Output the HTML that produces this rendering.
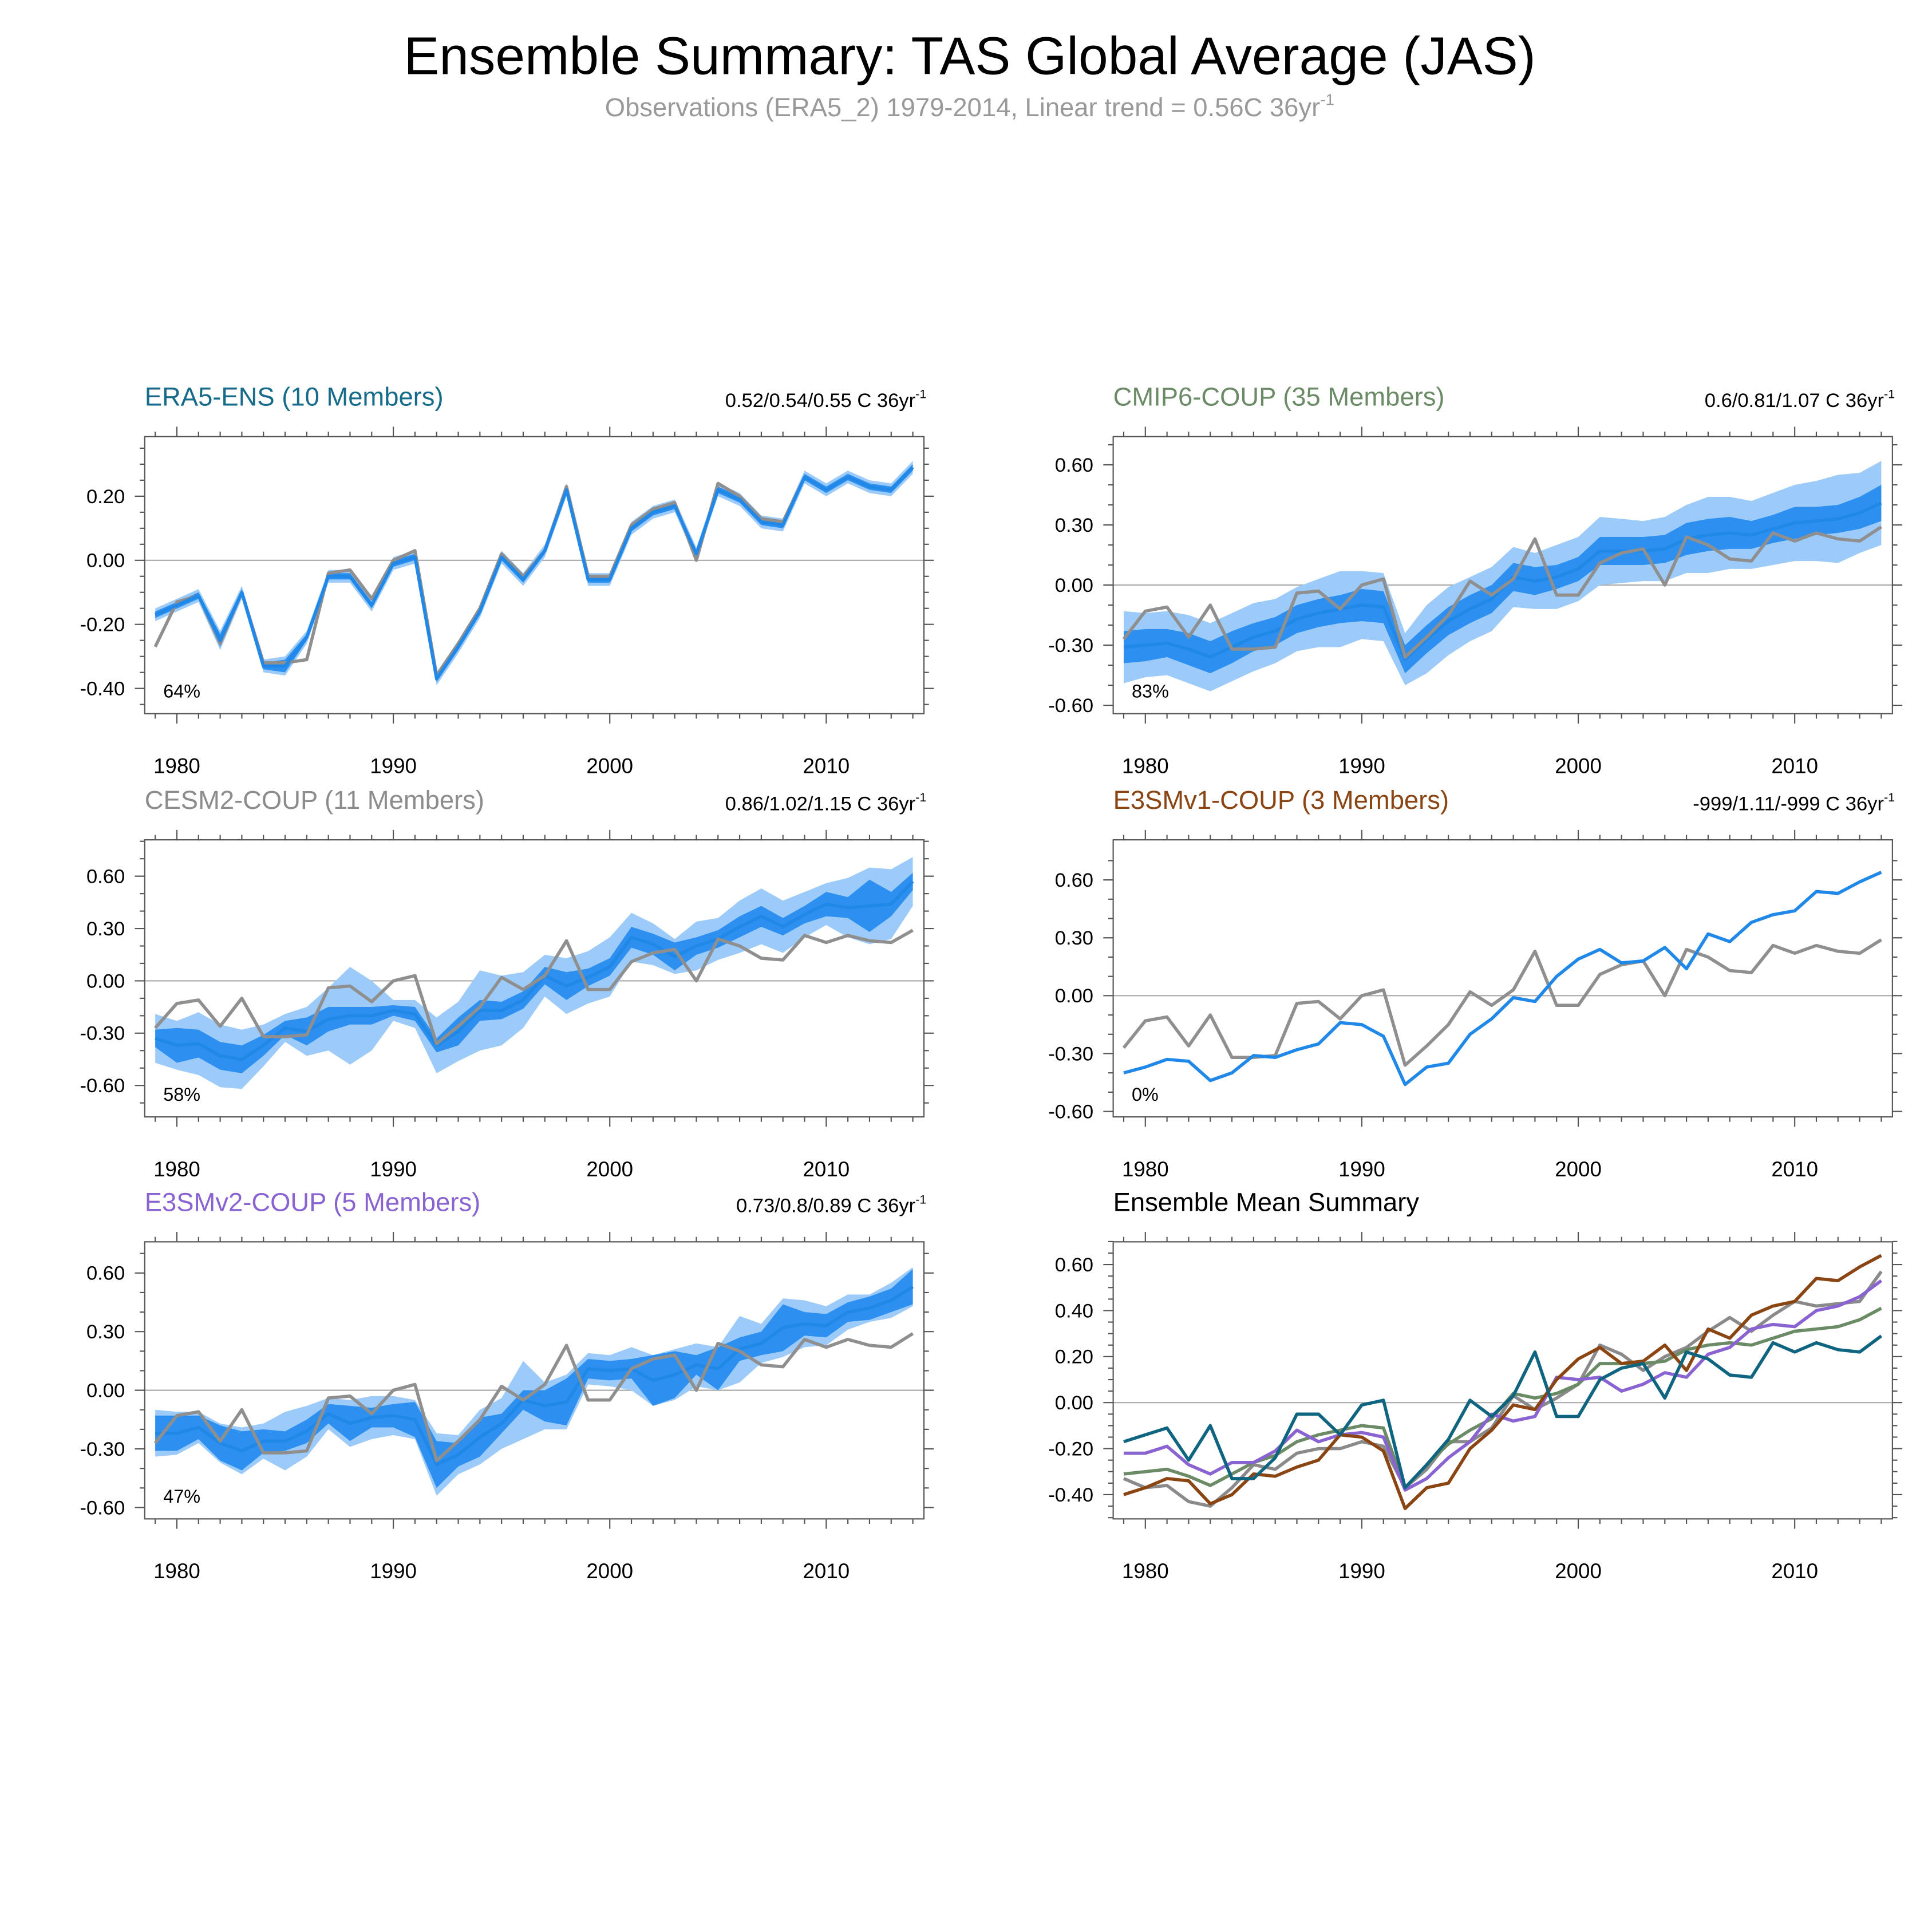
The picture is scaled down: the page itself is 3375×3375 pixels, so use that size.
<!DOCTYPE html>
<html><head><meta charset="utf-8">
<style>
html,body{margin:0;padding:0;background:#fff;}
svg{display:block;font-family:"Liberation Sans",Arial,sans-serif;}
</style></head>
<body>
<svg id="chart" width="3375" height="3375" viewBox="0 0 1562 1562" xmlns="http://www.w3.org/2000/svg">
<rect width="1562" height="1562" fill="#fff"/>
<text x="784" y="60" text-anchor="middle" font-size="43" fill="#000">Ensemble Summary: TAS Global Average (JAS)</text>
<text x="784" y="94" text-anchor="middle" font-size="21" fill="#999">Observations (ERA5_2) 1979-2014, Linear trend = 0.56C 36yr<tspan dy="-9" font-size="13">-1</tspan></text>
</svg>
<script>
const years = [];
for (let y = 1979; y <= 2014; y++) years.push(y);
const xTickLabels = [1980, 1990, 2000, 2010];

const obs = [-0.27,-0.13,-0.11,-0.26,-0.10,-0.32,-0.32,-0.31,-0.04,-0.03,-0.12,0.00,0.03,-0.36,-0.26,-0.15,0.02,-0.05,0.03,0.23,-0.05,-0.05,0.11,0.16,0.18,0.00,0.24,0.20,0.13,0.12,0.26,0.22,0.26,0.23,0.22,0.29];
const era5Mean = [-0.17,-0.14,-0.11,-0.25,-0.10,-0.33,-0.33,-0.24,-0.05,-0.05,-0.14,-0.01,0.01,-0.37,-0.27,-0.16,0.01,-0.06,0.03,0.22,-0.06,-0.06,0.10,0.15,0.17,0.02,0.22,0.19,0.12,0.11,0.26,0.22,0.26,0.23,0.22,0.29];
const cmip6Mean = [-0.31,-0.30,-0.29,-0.32,-0.36,-0.31,-0.26,-0.23,-0.17,-0.14,-0.12,-0.10,-0.11,-0.37,-0.27,-0.18,-0.12,-0.07,0.04,0.02,0.04,0.08,0.17,0.17,0.17,0.18,0.23,0.25,0.26,0.25,0.28,0.31,0.32,0.33,0.36,0.41];
const cesm2Mean = [-0.33,-0.37,-0.36,-0.43,-0.45,-0.37,-0.27,-0.29,-0.22,-0.20,-0.20,-0.17,-0.19,-0.37,-0.29,-0.17,-0.17,-0.11,0.03,-0.03,0.02,0.08,0.25,0.21,0.14,0.20,0.24,0.31,0.37,0.31,0.38,0.44,0.42,0.43,0.44,0.57];
const e3v1Mean = [-0.40,-0.37,-0.33,-0.34,-0.44,-0.40,-0.31,-0.32,-0.28,-0.25,-0.14,-0.15,-0.21,-0.46,-0.37,-0.35,-0.20,-0.12,-0.01,-0.03,0.10,0.19,0.24,0.17,0.18,0.25,0.14,0.32,0.28,0.38,0.42,0.44,0.54,0.53,0.59,0.64];
const e3v2Mean = [-0.22,-0.22,-0.19,-0.27,-0.31,-0.26,-0.26,-0.21,-0.12,-0.17,-0.14,-0.13,-0.15,-0.38,-0.33,-0.24,-0.17,-0.05,-0.08,-0.06,0.11,0.10,0.11,0.05,0.08,0.13,0.11,0.21,0.24,0.32,0.34,0.33,0.40,0.42,0.46,0.53];

const era5Inner = [0.01,0.01,0.01,0.02,0.01,0.01,0.02,0.01,0.01,0.01,0.01,0.01,0.01,0.01,0.01,0.01,0.01,0.01,0.01,0.01,0.01,0.01,0.01,0.01,0.01,0.01,0.01,0.01,0.01,0.01,0.01,0.01,0.01,0.01,0.01,0.01];
const era5Outer = [0.02,0.02,0.02,0.03,0.02,0.02,0.03,0.02,0.02,0.02,0.02,0.02,0.02,0.02,0.02,0.02,0.02,0.02,0.02,0.02,0.02,0.02,0.02,0.02,0.02,0.02,0.02,0.02,0.02,0.02,0.02,0.02,0.02,0.02,0.02,0.02];
const cmip6Inner = [0.08,0.08,0.07,0.08,0.08,0.08,0.07,0.07,0.07,0.07,0.07,0.08,0.08,0.07,0.07,0.07,0.07,0.07,0.07,0.07,0.06,0.06,0.07,0.07,0.07,0.07,0.08,0.08,0.08,0.07,0.07,0.08,0.07,0.07,0.08,0.09];
const cmip6Outer = [0.18,0.16,0.16,0.17,0.17,0.17,0.17,0.16,0.16,0.17,0.19,0.17,0.17,0.13,0.17,0.17,0.16,0.16,0.15,0.14,0.16,0.16,0.17,0.16,0.15,0.16,0.17,0.19,0.18,0.17,0.18,0.19,0.20,0.22,0.20,0.21];
const cesm2Inner = [0.05,0.10,0.08,0.08,0.08,0.06,0.04,0.08,0.07,0.05,0.05,0.03,0.04,0.04,0.08,0.06,0.05,0.05,0.05,0.08,0.05,0.05,0.06,0.06,0.08,0.05,0.05,0.06,0.06,0.05,0.05,0.07,0.06,0.15,0.07,0.05];
const cesm2Outer = [0.14,0.14,0.18,0.18,0.17,0.12,0.08,0.14,0.18,0.28,0.20,0.06,0.08,0.16,0.17,0.23,0.20,0.16,0.12,0.16,0.15,0.17,0.14,0.12,0.10,0.14,0.12,0.15,0.16,0.15,0.13,0.12,0.17,0.22,0.20,0.14];
const e3v2Inner = [0.09,0.09,0.06,0.09,0.10,0.06,0.05,0.06,0.05,0.09,0.05,0.06,0.09,0.12,0.06,0.10,0.05,0.05,0.08,0.12,0.05,0.05,0.05,0.13,0.12,0.05,0.11,0.06,0.06,0.12,0.06,0.06,0.05,0.06,0.06,0.09];
const e3v2Outer = [0.12,0.11,0.08,0.10,0.12,0.09,0.15,0.13,0.08,0.12,0.11,0.10,0.10,0.16,0.10,0.14,0.13,0.20,0.12,0.14,0.08,0.08,0.11,0.13,0.13,0.11,0.11,0.17,0.10,0.15,0.12,0.10,0.09,0.07,0.09,0.10];

const NS = "http://www.w3.org/2000/svg";
const svg = document.getElementById('chart');
function mk(tag, attrs, parent) {
  const e = document.createElementNS(NS, tag);
  for (const k in attrs) e.setAttribute(k, attrs[k]);
  (parent || svg).appendChild(e);
  return e;
}

function panel(cfg) {
  const g = mk('g', {});
  
  
  const {x0, x1, y0, y1, yRef, yRefVal, yPerUnit} = cfg;
  const xs = yr => x0 + 8.5 + (yr - 1979) * 17.5;
  const ys = v => yRef - (v - yRefVal) * yPerUnit;
  const lineD = arr => arr.map((v, i) => (i ? 'L' : 'M') + xs(years[i]).toFixed(1) + ',' + ys(v).toFixed(1)).join('');
  const bandD = (mean, w) => {
    let d = mean.map((v, i) => (i ? 'L' : 'M') + xs(years[i]).toFixed(1) + ',' + ys(v + w[i]).toFixed(1)).join('');
    for (let i = mean.length - 1; i >= 0; i--) d += 'L' + xs(years[i]).toFixed(1) + ',' + ys(mean[i] - w[i]).toFixed(1);
    return d + 'Z';
  };
  const z = mk('line', {x1: x0, x2: x1, y1: ys(0), y2: ys(0), stroke: '#aaa', 'stroke-width': 1}, g);
  
  
  if (cfg.outer) {
    const b = mk('path', {d: bandD(cfg.mean, cfg.outer), fill: '#9ccbfa'}, g);
    
    
  }
  if (cfg.inner) {
    const b = mk('path', {d: bandD(cfg.mean, cfg.inner), fill: '#2d90f0'}, g);
    
    
  }
  (cfg.lines || []).forEach(l => {
    const p = mk('path', {d: lineD(l.data), fill: 'none', stroke: l.color, 'stroke-width': 2.6, 'stroke-linejoin': 'round'}, g);
    
    
  });
  const fr = mk('rect', {x: x0, y: y0, width: x1 - x0, height: y1 - y0, fill: 'none', stroke: '#555', 'stroke-width': 1}, g);
  
  
  years.forEach(yr => {
    const major = yr % 10 === 0;
    const L = major ? 8 : 4;
    mk('line', {x1: xs(yr), x2: xs(yr), y1: y1, y2: y1 + L, stroke: '#555', 'stroke-width': 1}, g);
    mk('line', {x1: xs(yr), x2: xs(yr), y1: y0, y2: y0 - L, stroke: '#555', 'stroke-width': 1}, g);
  });
  xTickLabels.forEach(yr => {
    const t = mk('text', {x: xs(yr), y: y1 + 48, 'text-anchor': 'middle', 'font-size': 17}, g);
    t.textContent = yr;
    
    
  });
  for (let k = Math.round(cfg.yMin / cfg.minor); k * cfg.minor <= cfg.yMax + 1e-9; k++) {
    const v = k * cfg.minor;
    const yy = ys(v);
    if (yy < y0 - 0.5 || yy > y1 + 0.5) continue;
    const major = cfg.majorVals.some(m => Math.abs(m - v) < 1e-6);
    const L = major ? 8 : 4;
    mk('line', {x1: x0, x2: x0 - L, y1: yy, y2: yy, stroke: '#555', 'stroke-width': 1}, g);
    mk('line', {x1: x1, x2: x1 + L, y1: yy, y2: yy, stroke: '#555', 'stroke-width': 1}, g);
  }
  cfg.majorVals.forEach(v => {
    const t = mk('text', {x: x0 - 16, y: ys(v) + 5.5, 'text-anchor': 'end', 'font-size': 16}, g);
    t.textContent = v.toFixed(2);
    
    
  });
  const tt = mk('text', {x: x0, y: y0 - 25, 'font-size': 21, fill: cfg.titleColor}, g);
  tt.textContent = cfg.title;
  
  
  if (cfg.trend) {
    const tr = mk('text', {x: x1 + 2, y: y0 - 24, 'text-anchor': 'end', 'font-size': 16}, g);
    tr.textContent = cfg.trend + ' C 36yr';
    const sup = mk('tspan', {dy: -7, 'font-size': 10}, tr);
    sup.textContent = '-1';
    
    
  }
  if (cfg.pct) {
    const p = mk('text', {x: x0 + 15, y: y1 - 13, 'font-size': 15}, g);
    p.textContent = cfg.pct;
    
    
  }
}

const majors6 = [0.6, 0.3, 0, -0.3, -0.6];
const blue = '#1f88e8', gray = '#8f8f8f';
panel({name: 'panel-era5-ens', x0: 117, x1: 747, y0: 353, y1: 577, yRef: 453, yRefVal: 0, yPerUnit: 259,
  yMin: -0.5, yMax: 0.4, minor: 0.05, majorVals: [0.2, 0, -0.2, -0.4],
  mean: era5Mean, inner: era5Inner, outer: era5Outer,
  lines: [{data: obs, color: gray, name: 'observations-line'}, {data: era5Mean, color: blue, name: 'ensemble-mean-line'}],
  title: 'ERA5-ENS (10 Members)', titleColor: '#176b8a', trend: '0.52/0.54/0.55', pct: '64%'});
panel({name: 'panel-cmip6-coup', x0: 900, x1: 1530, y0: 353, y1: 577, yRef: 473, yRefVal: 0, yPerUnit: 162,
  yMin: -0.7, yMax: 0.7, minor: 0.1, majorVals: majors6,
  mean: cmip6Mean, inner: cmip6Inner, outer: cmip6Outer,
  lines: [{data: cmip6Mean, color: blue, name: 'ensemble-mean-line'}, {data: obs, color: gray, name: 'observations-line'}],
  title: 'CMIP6-COUP (35 Members)', titleColor: '#6b8a66', trend: '0.6/0.81/1.07', pct: '83%'});
panel({name: 'panel-cesm2-coup', x0: 117, x1: 747, y0: 679, y1: 903, yRef: 793, yRefVal: 0, yPerUnit: 141,
  yMin: -0.8, yMax: 0.8, minor: 0.1, majorVals: majors6,
  mean: cesm2Mean, inner: cesm2Inner, outer: cesm2Outer,
  lines: [{data: cesm2Mean, color: blue, name: 'ensemble-mean-line'}, {data: obs, color: gray, name: 'observations-line'}],
  title: 'CESM2-COUP (11 Members)', titleColor: '#8c8c8c', trend: '0.86/1.02/1.15', pct: '58%'});
panel({name: 'panel-e3smv1-coup', x0: 900, x1: 1530, y0: 679, y1: 903, yRef: 805, yRefVal: 0, yPerUnit: 156,
  yMin: -0.7, yMax: 0.7, minor: 0.1, majorVals: majors6,
  lines: [{data: obs, color: gray, name: 'observations-line'}, {data: e3v1Mean, color: blue, name: 'ensemble-mean-line'}],
  title: 'E3SMv1-COUP (3 Members)', titleColor: '#8b4513', trend: '-999/1.11/-999', pct: '0%'});
panel({name: 'panel-e3smv2-coup', x0: 117, x1: 747, y0: 1004, y1: 1228, yRef: 1124, yRefVal: 0, yPerUnit: 158,
  yMin: -0.7, yMax: 0.7, minor: 0.1, majorVals: majors6,
  mean: e3v2Mean, inner: e3v2Inner, outer: e3v2Outer,
  lines: [{data: e3v2Mean, color: blue, name: 'ensemble-mean-line'}, {data: obs, color: gray, name: 'observations-line'}],
  title: 'E3SMv2-COUP (5 Members)', titleColor: '#8a63d2', trend: '0.73/0.8/0.89', pct: '47%'});
panel({name: 'panel-ensemble-mean-summary', x0: 900, x1: 1530, y0: 1004, y1: 1228, yRef: 1134, yRefVal: 0, yPerUnit: 186,
  yMin: -0.5, yMax: 0.7, minor: 0.05, majorVals: [0.6, 0.4, 0.2, 0, -0.2, -0.4],
  lines: [
    {data: cesm2Mean, color: '#8a8a8a', name: 'cesm2-mean-line'},
    {data: cmip6Mean, color: '#6b8a66', name: 'cmip6-mean-line'},
    {data: e3v2Mean, color: '#8a63d2', name: 'e3smv2-mean-line'},
    {data: e3v1Mean, color: '#8b4513', name: 'e3smv1-mean-line'},
    {data: era5Mean, color: '#0f6580', name: 'era5-mean-line'}],
  title: 'Ensemble Mean Summary', titleColor: '#000'});
</script>
</body></html>
